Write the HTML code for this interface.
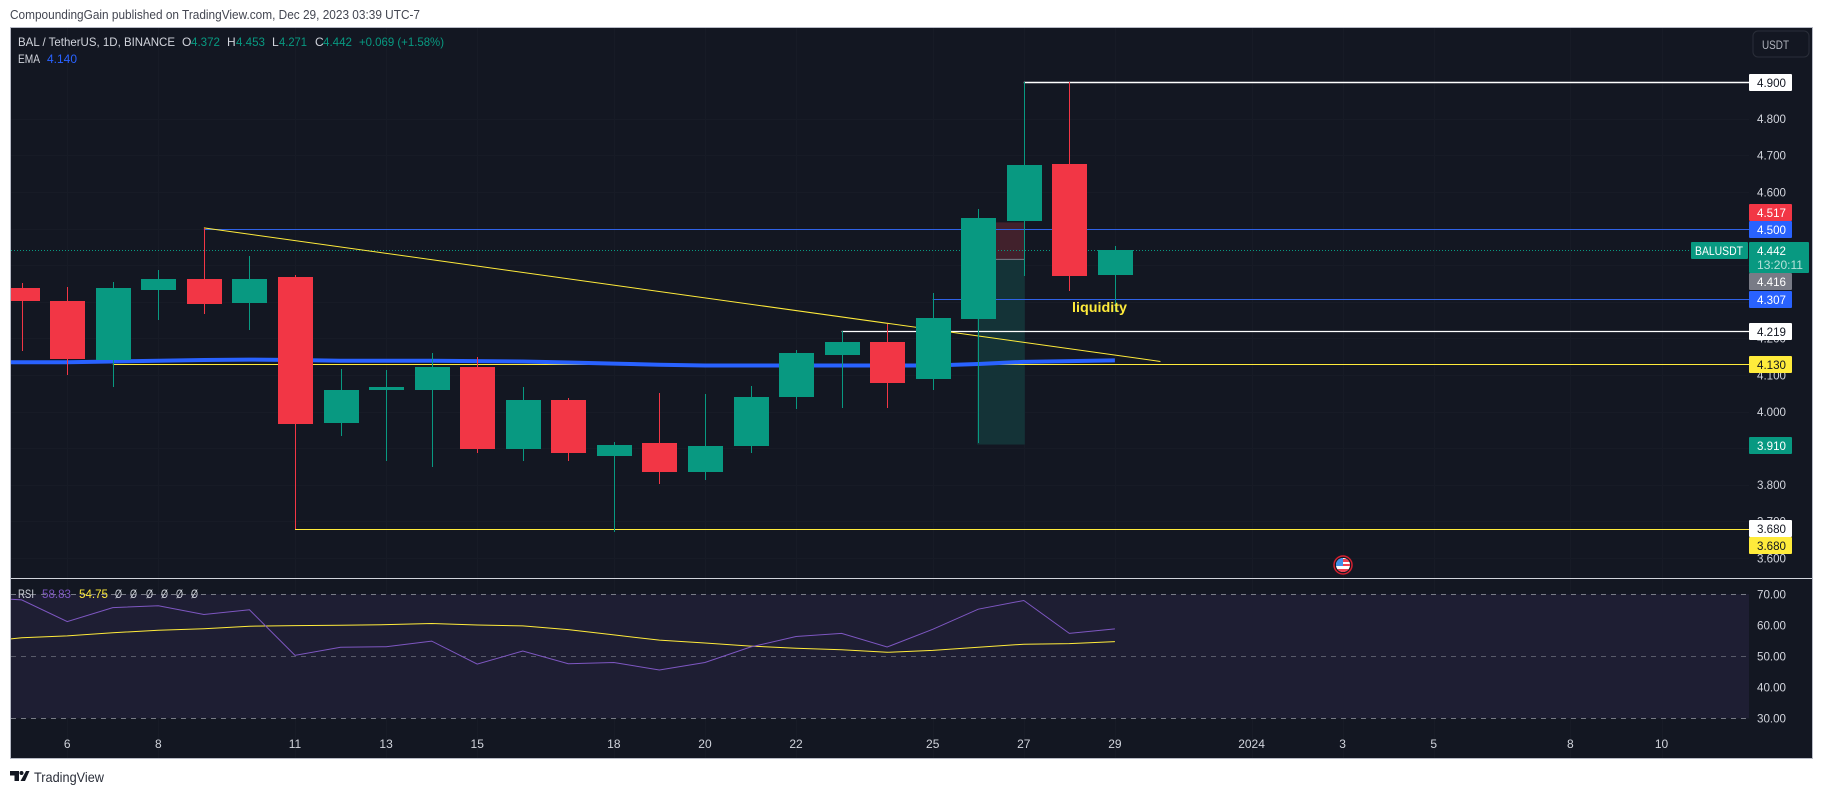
<!DOCTYPE html>
<html lang="en">
<head>
<meta charset="utf-8">
<title>BAL / TetherUS 1D chart</title>
<style>
html,body{margin:0;padding:0;background:#fff;width:1823px;height:794px;overflow:hidden}
svg{display:block}
text{font-family:"Liberation Sans","DejaVu Sans",sans-serif}
</style>
</head>
<body>
<svg id="chart" xmlns="http://www.w3.org/2000/svg" width="1823" height="794" viewBox="0 0 1823 794">
  <defs>
    <clipPath id="main-clip"><rect x="11" y="28" width="1738" height="550"></rect></clipPath>
    <clipPath id="rsi-clip"><rect x="11" y="579" width="1738" height="179"></rect></clipPath>
    <clipPath id="flag-clip"><circle cx="1343" cy="565" r="7"></circle></clipPath>
  </defs>
  <rect x="0" y="0" width="1823" height="794" fill="#ffffff"></rect>
  <text x="10" y="19" font-size="13" fill="#434651" textLength="410" lengthAdjust="spacingAndGlyphs">CompoundingGain published on TradingView.com, Dec 29, 2023 03:39 UTC-7</text>
  <rect x="10.5" y="27.5" width="1802" height="731" fill="#131722" stroke="#b8bbc6" stroke-width="1"></rect>
  <g id="layer-grid"></g>
  <g id="layer-main" clip-path="url(#main-clip)"></g>
  <g id="layer-rsi" clip-path="url(#rsi-clip)"></g>
  <rect x="11" y="578" width="1801" height="1" fill="#d1d4dc"></rect>
  <g id="layer-axis"></g>

  <g font-size="12">
    <text x="18" y="46" fill="#d1d4dc" textLength="157" lengthAdjust="spacingAndGlyphs">BAL / TetherUS, 1D, BINANCE</text>
    <text x="182" y="46" fill="#d1d4dc">O</text>
    <text x="191" y="46" fill="#089981" textLength="29" lengthAdjust="spacingAndGlyphs">4.372</text>
    <text x="227" y="46" fill="#d1d4dc">H</text>
    <text x="236" y="46" fill="#089981" textLength="29" lengthAdjust="spacingAndGlyphs">4.453</text>
    <text x="272" y="46" fill="#d1d4dc">L</text>
    <text x="279" y="46" fill="#089981" textLength="28" lengthAdjust="spacingAndGlyphs">4.271</text>
    <text x="315" y="46" fill="#d1d4dc">C</text>
    <text x="323" y="46" fill="#089981" textLength="29" lengthAdjust="spacingAndGlyphs">4.442</text>
    <text x="359" y="46" fill="#089981" textLength="85" lengthAdjust="spacingAndGlyphs">+0.069 (+1.58%)</text>
    <text x="18" y="63" fill="#d1d4dc" textLength="22" lengthAdjust="spacingAndGlyphs">EMA</text>
    <text x="47" y="63" fill="#2962ff" textLength="30" lengthAdjust="spacingAndGlyphs">4.140</text>
  </g>

  <g font-size="12">
    <text x="18" y="598" fill="#d1d4dc" textLength="16" lengthAdjust="spacingAndGlyphs">RSI</text>
    <text x="42" y="598" fill="#7e57c2" textLength="29" lengthAdjust="spacingAndGlyphs">58.83</text>
    <text x="79" y="598" fill="#ffeb3b" textLength="29" lengthAdjust="spacingAndGlyphs">54.75</text>
    <text x="115" y="598" fill="#d1d4dc" textLength="7" lengthAdjust="spacingAndGlyphs">Ø</text>
    <text x="130" y="598" fill="#d1d4dc" textLength="7" lengthAdjust="spacingAndGlyphs">Ø</text>
    <text x="146" y="598" fill="#d1d4dc" textLength="7" lengthAdjust="spacingAndGlyphs">Ø</text>
    <text x="161" y="598" fill="#d1d4dc" textLength="7" lengthAdjust="spacingAndGlyphs">Ø</text>
    <text x="176" y="598" fill="#d1d4dc" textLength="7" lengthAdjust="spacingAndGlyphs">Ø</text>
    <text x="191" y="598" fill="#d1d4dc" textLength="7" lengthAdjust="spacingAndGlyphs">Ø</text>
  </g>

  <g>
    <rect x="1753" y="31" width="56" height="26" rx="5" fill="#131722" stroke="#2a2e39" stroke-width="1"></rect>
    <text x="1762" y="49" font-size="12" fill="#b2b5be" textLength="27" lengthAdjust="spacingAndGlyphs">USDT</text>
  </g>

  <g>
    <circle cx="1343" cy="565" r="9" fill="#131722" stroke="#d3202f" stroke-width="1.5"></circle>
    <g clip-path="url(#flag-clip)">
      <rect x="1335" y="557" width="16" height="16" fill="#ffffff"></rect>
      <rect x="1343" y="559" width="8" height="3" fill="#ef4050"></rect>
      <rect x="1343" y="564" width="8" height="2" fill="#ef4050"></rect>
      <rect x="1335" y="569" width="16" height="3" fill="#ef4050"></rect>
      <rect x="1335" y="557" width="8" height="9" fill="#3f8fe8"></rect>
    </g>
  </g>

  <g>
    <polygon points="10,771 19,771 19,781 14.5,781 14.5,775.5 10,775.5" fill="#131722"></polygon>
    <circle cx="21.5" cy="773" r="2" fill="#131722"></circle>
    <polygon points="26,771 29.5,771 25,781 20.5,781" fill="#131722"></polygon>
    <text x="34" y="782" font-size="14" fill="#2a2e39" textLength="70" lengthAdjust="spacingAndGlyphs">TradingView</text>
  </g>
</svg>
<script>
// Daily candles for BAL/USDT, 5 Dec to 29 Dec 2023
const candleDates = ['12-05','12-06','12-07','12-08','12-09','12-10','12-11','12-12','12-13','12-14','12-15','12-16','12-17','12-18','12-19','12-20','12-21','12-22','12-23','12-24','12-25','12-26','12-27','12-28','12-29'];
const opens  = [4.339,4.303,4.142,4.333,4.363,4.298,4.369,3.970,4.060,4.060,4.123,3.899,4.033,3.880,3.913,3.836,3.905,4.041,4.156,4.191,4.088,4.254,4.521,4.677,4.372];
const highs  = [4.352,4.341,4.355,4.388,4.502,4.426,4.374,4.117,4.115,4.161,4.150,4.066,4.038,3.918,4.052,4.049,4.071,4.167,4.219,4.238,4.325,4.554,4.900,4.900,4.453];
const lows   = [4.165,4.101,4.066,4.251,4.268,4.224,3.680,3.932,3.866,3.850,3.886,3.864,3.866,3.670,3.801,3.812,3.886,4.008,4.011,4.011,4.058,3.913,4.371,4.330,4.271];
const closes = [4.301,4.145,4.339,4.363,4.295,4.363,3.967,4.060,4.066,4.123,3.899,4.033,3.888,3.910,3.834,3.905,4.041,4.161,4.191,4.077,4.257,4.530,4.674,4.371,4.442];
const emaValues = [4.135,4.135,4.137,4.139,4.141,4.142,4.141,4.139,4.139,4.139,4.138,4.137,4.134,4.131,4.128,4.126,4.126,4.126,4.126,4.126,4.126,4.130,4.136,4.138,4.140];
const rsiValues = [68.2,61.2,65.7,66.3,63.5,65.0,50.3,52.9,53.1,54.9,47.5,51.7,47.6,48.0,45.6,48.0,53.0,56.4,57.4,53.0,58.7,65.2,68.0,57.4,58.83];
const rsiMaValues = [56.0,56.6,57.6,58.4,58.9,59.7,59.9,60.0,60.2,60.6,60.1,59.8,58.6,56.9,55.2,54.3,53.3,52.6,52.1,51.3,51.9,52.9,53.9,54.1,54.75];

// Axis ticks
const priceTicks = ['4.800','4.700','4.600','4.500','4.400','4.300','4.200','4.100','4.000','3.900','3.800','3.700','3.600'];
const rsiTicks = ['70.00','60.00','50.00','40.00','30.00'];
const timeTickDates = ['12-06','12-08','12-11','12-13','12-15','12-18','12-20','12-22','12-25','12-27','12-29','01-01','01-03','01-05','01-08','01-10'];
const timeTickLabels = ['6','8','11','13','15','18','20','22','25','27','29','2024','3','5','8','10'];
const monthStarts = {'12':0,'01':27};

// Axis functions
function xDate(d){
  const parts = d.split('-');
  const day = Number(parts[1]);
  const index = parts[0] === '12' ? day - 5 : monthStarts['01'] + day - 1;
  return xIndex(index);
}
function xIndex(i){ return 21.7 + 45.55 * i; }
function yPrice(p){ return 82.2 + (4.9 - p) * 366; }
function yRsi(r){ return 594.3 + (70 - r) * 3.1; }

const NS = 'http://www.w3.org/2000/svg';
const grid = document.getElementById('layer-grid');
const main = document.getElementById('layer-main');
const rsi = document.getElementById('layer-rsi');
const axis = document.getElementById('layer-axis');
function make(tag, parent, props){
  const el = document.createElementNS(NS, tag);
  Object.keys(props).forEach(function(k){ el.setAttribute(k, props[k]); });
  parent.appendChild(el);
  return el;
}
function polyline(values, xf, yf){
  return values.map(function(v, i){ return xf(i).toFixed(2) + ',' + yf(v).toFixed(2); }).join(' ');
}

// Grid
timeTickDates.forEach(function(d){
  const gx = Math.round(xDate(d)) + 0.5;
  const el = make('line', grid, {x1:gx, x2:gx, y1:28, y2:758, stroke:'#171b26', 'stroke-width':1});
  
  
});
priceTicks.forEach(function(t){
  const gy = Math.round(yPrice(Number(t))) + 0.5;
  const el = make('line', grid, {x1:11, x2:1749, y1:gy, y2:gy, stroke:'#171b26', 'stroke-width':1});
  
  
});

// Position box
const boxLeftX = xIndex(21) - 1;
const boxRightX = xIndex(22) + 1;
const stopBox = make('rect', main, {x:boxLeftX, y:yPrice(4.517), width:boxRightX-boxLeftX, height:yPrice(4.416)-yPrice(4.517), fill:'#41212c'});


const targetBox = make('rect', main, {x:boxLeftX, y:yPrice(4.416), width:boxRightX-boxLeftX, height:yPrice(3.91)-yPrice(4.416), fill:'#143337'});


const entryLine = make('line', main, {x1:boxLeftX, x2:boxRightX, y1:yPrice(4.416), y2:yPrice(4.416), stroke:'#787b86', 'stroke-width':1});



// Horizontal level drawings
function drawLevel(startIndex, price, color, width, name){
  const ly = Math.round(yPrice(price)) + 0.5;
  const el = make('line', main, {x1:xIndex(startIndex), x2:1749, y1:ly, y2:ly, stroke:color, 'stroke-width':width});
  
  
}
drawLevel(22, 4.900, '#ffffff', 1.4, 'level-line-4-900');
drawLevel(4, 4.500, '#2f62e6', 1, 'level-line-4-500');
drawLevel(20, 4.307, '#2f62e6', 1, 'level-line-4-307');
drawLevel(18, 4.219, '#ffffff', 1.2, 'level-line-4-219');
drawLevel(2, 4.130, '#ffeb3b', 1, 'level-line-4-130');
drawLevel(6, 3.680, '#ffeb3b', 1, 'level-line-3-680');

// Last price dotted line
const lastY = Math.round(yPrice(closes[closes.length - 1])) + 0.5;
const lastLine = make('line', main, {x1:11, x2:1691, y1:lastY, y2:lastY, stroke:'#089981', 'stroke-width':1, 'stroke-dasharray':'1 2'});



// Trend line
const trend = make('line', main, {x1:xIndex(4), y1:yPrice(4.502), x2:xIndex(25), y2:yPrice(4.137), stroke:'#ffeb3b', 'stroke-width':1});



// EMA
const emaExtra = emaValues[0];
const emaPts = xIndex(-1).toFixed(2) + ',' + yPrice(emaExtra).toFixed(2) + ' ' + polyline(emaValues, xIndex, yPrice);
const ema = make('polyline', main, {points:emaPts, fill:'none', stroke:'#2962ff', 'stroke-width':4, 'stroke-linecap':'butt'});



// Candles
candleDates.forEach(function(d, i){
  const up = closes[i] >= opens[i];
  const color = up ? '#089981' : '#f23645';
  const cx = Math.round(xDate(d));
  const wickTop = Math.round(yPrice(highs[i]));
  const wickBottom = Math.round(yPrice(lows[i]));
  const bodyTop = Math.round(yPrice(Math.max(opens[i], closes[i])));
  const bodyBottom = Math.round(yPrice(Math.min(opens[i], closes[i])));
  const wick = make('rect', main, {x:cx, y:wickTop, width:1, height:Math.max(1, wickBottom - wickTop), fill:color});
  
  
  const body = make('rect', main, {x:cx - 17, y:bodyTop, width:35, height:Math.max(2, bodyBottom - bodyTop), fill:color});
  
  
});

// Liquidity note
const note = make('text', main, {x:1072, y:312, 'font-size':14, 'font-weight':'bold', fill:'#ffeb3b', textLength:55, lengthAdjust:'spacingAndGlyphs'});
note.textContent = 'liquidity';



// RSI pane
const band = make('rect', rsi, {x:11, y:yRsi(70), width:1738, height:yRsi(30)-yRsi(70), fill:'#1e1e33'});


const rsiLevelValues = [70, 50, 30];
rsiLevelValues.forEach(function(level){
  const ry = Math.round(yRsi(level)) + 0.5;
  const el = make('line', rsi, {x1:11, x2:1749, y1:ry, y2:ry, stroke:'#787b86', 'stroke-width':1, 'stroke-dasharray':'5 5', opacity: level === 50 ? 0.65 : 1});
  
  
});
const rsiMaLine = make('polyline', rsi, {points:xIndex(-1).toFixed(2) + ',' + yRsi(54.4).toFixed(2) + ' ' + polyline(rsiMaValues, xIndex, yRsi), fill:'none', stroke:'#ffeb3b', 'stroke-width':1});


const rsiLine = make('polyline', rsi, {points:xIndex(-1).toFixed(2) + ',' + yRsi(69).toFixed(2) + ' ' + polyline(rsiValues, xIndex, yRsi), fill:'none', stroke:'#7e57c2', 'stroke-width':1});



// Axis tick labels
priceTicks.forEach(function(t){
  const el = make('text', axis, {x:1757, y:yPrice(Number(t)) + 4.3, 'font-size':12, fill:'#d1d4dc', textLength:29, lengthAdjust:'spacingAndGlyphs'});
  el.textContent = t;
  
  
});
rsiTicks.forEach(function(t){
  const el = make('text', axis, {x:1757, y:yRsi(Number(t)) + 4.3, 'font-size':12, fill:'#d1d4dc', textLength:29, lengthAdjust:'spacingAndGlyphs'});
  el.textContent = t;
  
  
});
timeTickDates.forEach(function(d, i){
  const el = make('text', axis, {x:xDate(d), y:748, 'font-size':12, fill:'#d1d4dc', 'text-anchor':'middle'});
  el.textContent = timeTickLabels[i];
  
  
});

// Price scale labels
function drawPriceLabel(value, bg, fg, nudge, name){
  const cy = yPrice(value) + nudge;
  const box = make('rect', axis, {x:1749, y:Math.round(cy - 8.3), width:43, height:17, fill:bg, rx:1});
  
  
  const label = make('text', axis, {x:1757, y:Math.round(cy - 8.3) + 12.8, 'font-size':12, fill:fg, textLength:29, lengthAdjust:'spacingAndGlyphs'});
  label.textContent = value.toFixed(3);
  
  
}
drawPriceLabel(4.900, '#ffffff', '#131722', 0, 'price-label-4-900');
drawPriceLabel(4.517, '#f23645', '#ffffff', -10.5, 'price-label-stop');
drawPriceLabel(4.500, '#2962ff', '#ffffff', 0.3, 'price-label-4-500');
drawPriceLabel(4.416, '#787b86', '#ffffff', 22, 'price-label-entry');
drawPriceLabel(4.307, '#2962ff', '#ffffff', 0, 'price-label-4-307');
drawPriceLabel(4.219, '#ffffff', '#131722', 0, 'price-label-4-219');
drawPriceLabel(4.130, '#ffeb3b', '#131722', 0, 'price-label-4-130');
drawPriceLabel(3.910, '#089981', '#ffffff', 0.5, 'price-label-target');
drawPriceLabel(3.680, '#ffffff', '#131722', 0, 'price-label-3-680-white');
drawPriceLabel(3.680, '#ffeb3b', '#131722', 17, 'price-label-3-680-yellow');

// Last price label
const lastBox = make('rect', axis, {x:1749, y:242, width:60, height:31, fill:'#089981', rx:1});


const lastText = make('text', axis, {x:1757, y:255, 'font-size':12, fill:'#ffffff', textLength:29, lengthAdjust:'spacingAndGlyphs'});
lastText.textContent = closes[closes.length - 1].toFixed(3);


const countdown = make('text', axis, {x:1757, y:269, 'font-size':12, fill:'#ffffff', 'fill-opacity':0.7, textLength:46, lengthAdjust:'spacingAndGlyphs'});
countdown.textContent = '13:20:11';


const symbolBox = make('rect', axis, {x:1691, y:242, width:57, height:17, fill:'#089981', rx:1});


const symbolText = make('text', axis, {x:1695, y:255, 'font-size':12, fill:'#ffffff', textLength:48, lengthAdjust:'spacingAndGlyphs'});
symbolText.textContent = 'BALUSDT';


</script>
</body>
</html>
